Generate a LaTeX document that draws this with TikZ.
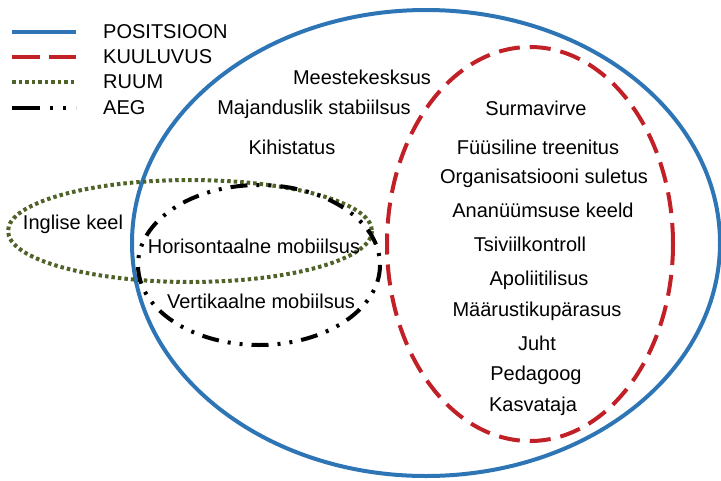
\documentclass[tikz,border=0pt]{standalone}
\usepackage{fontspec}
\setmainfont{Liberation Sans}
\usepackage{tikz}
\definecolor{posblue}{RGB}{46,117,182}
\definecolor{kuulred}{RGB}{192,32,38}
\definecolor{ruumgreen}{RGB}{79,98,40}
\tikzset{
  posline/.style={line width=4pt, color=posblue},
  kuulline/.style={line width=4pt, color=kuulred, dash pattern=on 21pt off 10pt},
  ruumline/.style={line width=4pt, color=ruumgreen, dash pattern=on 3.5pt off 3pt},
  aegline/.style={line width=4pt, color=black, dash pattern=on 17pt off 9pt on 3pt off 9pt on 3pt off 9pt},
  lbl/.style={font=\fontsize{20pt}{22pt}\selectfont, inner sep=0pt},
  legtext/.style={lbl, anchor=west}
}
\begin{document}
\begin{tikzpicture}[line join=round,x=1pt,y=-1pt]
\useasboundingbox (0,0) rectangle (721,480);
% sets
\draw [posline] (426,243) ellipse [x radius=294, y radius=233];
\draw [kuulline] (530,244) ellipse [x radius=143, y radius=197];
\draw [ruumline] (190,231) ellipse [x radius=182, y radius=51];
\draw [aegline] (259,265) ellipse [x radius=121, y radius=80];
% legend
\draw [posline] (12,32)--(76,32);
\draw [kuulline, dash pattern=on 28pt off 9pt] (12,57)--(76,57);
\draw [ruumline] (12,82)--(76,82);
\draw [aegline, dash pattern=on 28pt off 10pt on 3pt off 10pt on 3pt off 10pt] (12,108)--(76,108);
\node[legtext] (legpos) at (103,32) {POSITSIOON};
\node[legtext] (legkuul) at (103,57) {KUULUVUS};
\node[legtext] (legruum) at (103,82) {RUUM};
\node[legtext] (legaeg) at (103,108) {AEG};
% positsioon
\node[lbl] (meestek) at (362,77) {Meestekesksus};
\node[lbl] (majandus) at (314,109) {Majanduslik stabiilsus};
\node[lbl] (kihist) at (292,147) {Kihistatus};
% kuuluvus
\node[lbl] (surma) at (536,108) {Surmavirve};
\node[lbl] (fyysil) at (538,147) {Füüsiline treenitus};
\node[lbl] (organ) at (544,178) {Organisatsiooni suletus};
\node[lbl] (anon) at (543,210) {Ananüümsuse keeld};
\node[lbl] (tsiviil) at (530,244) {Tsiviilkontroll};
\node[lbl] (apol) at (539,280) {Apoliitilisus};
\node[lbl] (maarus) at (537,311) {Määrustikupärasus};
\node[lbl] (juht) at (537,343) {Juht};
\node[lbl] (pedag) at (536,375) {Pedagoog};
\node[lbl] (kasvat) at (533,406) {Kasvataja};
% ruum, aeg
\node[lbl] (inglise) at (73,224) {Inglise keel};
\node[lbl] (horis) at (254,246) {Horisontaalne mobiilsus};
\node[lbl] (vertik) at (261,301) {Vertikaalne mobiilsus};
\end{tikzpicture}
\end{document}
